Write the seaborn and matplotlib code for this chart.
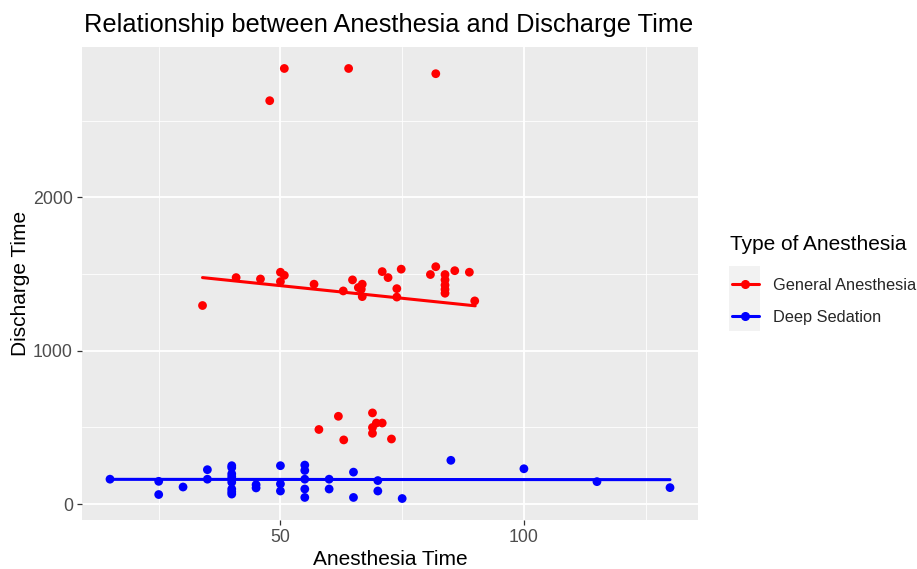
import pandas as pd
import matplotlib
matplotlib.use("Agg")
import matplotlib.pyplot as plt
import seaborn as sns
from matplotlib.lines import Line2D
from matplotlib.patches import Rectangle
from matplotlib.ticker import MultipleLocator

# General Anesthesia points (anesthesia time, discharge time)
ga_x = [50.8, 64.0, 81.9, 47.8, 34.0, 40.9, 45.9, 50.0, 50.8, 50.0, 56.9, 62.9,
        64.8, 66.0, 66.8, 66.6, 66.8, 70.9, 72.1, 74.8, 73.9, 73.9, 80.8, 81.9,
        83.8, 83.8, 83.8, 83.8, 83.8, 85.8, 88.8, 89.9,
        57.9, 61.9, 63.0, 68.9, 68.9, 68.9, 69.7, 70.9, 72.8]
ga_y = [2840, 2840, 2806, 2630, 1295, 1477, 1468, 1512, 1492, 1451, 1434, 1390,
        1462, 1412, 1434, 1401, 1353, 1516, 1477, 1532, 1405, 1350, 1497, 1548,
        1497, 1462, 1428, 1400, 1375, 1522, 1512, 1325,
        487, 573, 419, 595, 500, 462, 529, 529, 425]

# Deep Sedation points
ds_x = [15, 25, 25, 30, 35, 35, 40, 40, 40, 40, 40, 40, 40, 40, 40,
        45, 45, 50, 50, 50, 55, 55, 55, 55, 55, 60, 60, 65, 65,
        70, 70, 75, 85, 100, 115, 130]
ds_y = [163, 149, 63, 112, 225, 163, 251, 238, 198, 180, 163, 143, 99, 81, 66,
        127, 106, 251, 132, 86, 255, 220, 163, 99, 44, 163, 99, 209, 44,
        154, 86, 37, 286, 231, 147, 108]

# linear fit lines
ga_fit_x = [34, 90]
ga_fit_y = [1477, 1293]
ds_fit_x = [15, 130]
ds_fit_y = [162, 160]

groups = ["General Anesthesia", "Deep Sedation"]
colors = {"General Anesthesia": "#FF0000", "Deep Sedation": "#0000FF"}

pts = pd.DataFrame({
    "Anesthesia Time": ga_x + ds_x,
    "Discharge Time": ga_y + ds_y,
    "Type": [groups[0]] * len(ga_x) + [groups[1]] * len(ds_x),
})
fits = pd.DataFrame({
    "Anesthesia Time": ga_fit_x + ds_fit_x,
    "Discharge Time": ga_fit_y + ds_fit_y,
    "Type": [groups[0]] * 2 + [groups[1]] * 2,
})

sns.set_theme(style="darkgrid")
plt.rcParams["font.family"] = ["Liberation Sans", "DejaVu Sans"]

fig = plt.figure(figsize=(9.17, 5.69), dpi=100)
ax = fig.add_axes([82 / 917, 1 - 520 / 569, 616 / 917, 473 / 569])
ax.set_facecolor("#EBEBEB")

sns.scatterplot(data=pts, x="Anesthesia Time", y="Discharge Time", hue="Type",
                palette=colors, s=40, linewidth=0, legend=False, ax=ax, zorder=3)
sns.lineplot(data=fits, x="Anesthesia Time", y="Discharge Time", hue="Type",
             palette=colors, linewidth=2.2, legend=False, ax=ax, zorder=4,
             estimator=None, sort=False)

ax.set_xlim(9.25, 135.75)
ax.set_ylim(-103, 2980)
ax.xaxis.set_major_locator(MultipleLocator(50))
ax.xaxis.set_minor_locator(MultipleLocator(25))
ax.yaxis.set_major_locator(MultipleLocator(1000))
ax.yaxis.set_minor_locator(MultipleLocator(500))
ax.grid(which="major", color="white", linewidth=1.3)
ax.grid(which="minor", color="white", linewidth=0.6)
ax.set_axisbelow(True)
for s in ax.spines.values():
    s.set_visible(False)
ax.tick_params(which="major", length=3.5, width=0.9, color="#333333",
               labelcolor="#4D4D4D", labelsize=12.8, pad=3, bottom=True, left=True)
ax.tick_params(which="minor", length=0)

ax.set_xlabel("Anesthesia Time", fontsize=15, color="black", labelpad=3)
ax.set_ylabel("Discharge Time", fontsize=15, color="black", labelpad=2)

fig.text(84 / 917, 1 - 32 / 569, "Relationship between Anesthesia and Discharge Time",
         fontsize=18.3, color="black", ha="left", va="baseline")

# legend
fig.text(730 / 917, 1 - 245 / 569, "Type of Anesthesia", fontsize=15,
         color="black", ha="left", va="center")
fig.patches.append(Rectangle((729 / 917, 1 - 331 / 569), 31 / 917, 65 / 569,
                             transform=fig.transFigure, facecolor="#F2F2F2",
                             edgecolor="none", zorder=0))
handles = [Line2D([0], [0], color=colors[g], lw=2.2, marker="o", markersize=5.5)
           for g in groups]
leg = fig.legend(handles, groups, loc="upper left",
                 bbox_to_anchor=(732 / 917, 1 - 278 / 569), frameon=False,
                 borderpad=0, borderaxespad=0,
                 fontsize=11.8, handlelength=1.63, handleheight=0.7,
                 labelspacing=1.05, handletextpad=0.85)

fig.savefig("out.png", dpi=100)
